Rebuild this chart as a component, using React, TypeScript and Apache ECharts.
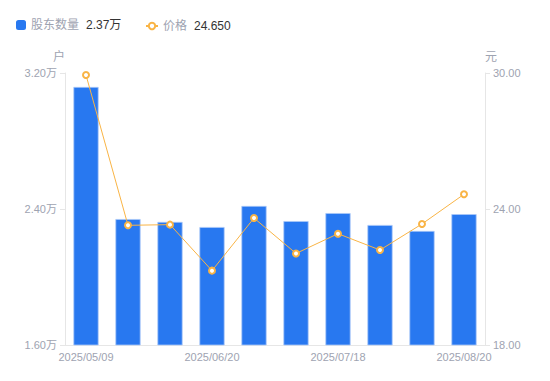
import React, { useEffect, useRef } from "react";
import * as echarts from "echarts";

const dates = [
  "2025/05/09", "2025/05/20", "2025/05/30", "2025/06/20", "2025/06/30",
  "2025/07/10", "2025/07/18", "2025/07/31", "2025/08/10", "2025/08/20",
];
const holders = [31180, 23410, 23240, 22940, 24180, 23290, 23760, 23060, 22710, 23700];
const prices = [29.91, 23.28, 23.31, 21.28, 23.6, 22.04, 22.91, 22.19, 23.34, 24.65];
const leftTicks = { min: 16000, max: 32000, interval: 8000 };
const rightTicks = { min: 18, max: 30, interval: 6 };

export default function App() {
  const ref = useRef<HTMLDivElement>(null);
  useEffect(() => {
    const chart = echarts.init(ref.current!, undefined, { renderer: "svg" });
    const gray = "#9ea3b1";
    const font = "Liberation Sans, Arial, Noto Sans CJK SC, sans-serif";
    const rich = {
      n: { color: gray, fontSize: 12, padding: [0, 7, 0, 0], fontFamily: font },
      v: { color: "#333", fontSize: 12, fontFamily: font },
    };
    chart.setOption({
      animation: false,
      textStyle: { fontFamily: font },
      legend: [
        {
          top: 14,
          left: 11,
          itemWidth: 10,
          itemHeight: 10,
          data: [{ name: "股东数量", icon: "roundRect", itemStyle: { borderWidth: 0 } }],
          formatter: (name: string) =>
            `{n|${name}}{v|${(holders[holders.length - 1] / 10000).toFixed(2)}万}`,
          textStyle: { rich },
        },
        {
          top: 15,
          left: 140,
          itemWidth: 12,
          itemHeight: 8,
          data: [{ name: "价格", itemStyle: { borderWidth: 1.5 } }],
          formatter: (name: string) =>
            `{n|${name}}{v|${prices[prices.length - 1].toFixed(3)}}`,
          textStyle: { rich },
        },
      ],
      grid: { left: 65, right: 65, top: 73, bottom: 36 },
      xAxis: {
        type: "category",
        data: dates,
        axisLine: { lineStyle: { color: "#e6e6e6" } },
        axisTick: { show: false },
        axisLabel: { color: gray, fontSize: 11, interval: 2, margin: 6 },
      },
      yAxis: [
        {
          type: "value",
          name: "户",
          nameGap: 10,
          nameTextStyle: { color: gray, fontSize: 12, align: "right" },
          min: leftTicks.min,
          max: leftTicks.max,
          interval: leftTicks.interval,
          axisLine: { show: true, lineStyle: { color: "#e6e6e6" } },
          axisTick: { show: true, length: 5, lineStyle: { color: "#e6e6e6" } },
          splitLine: { show: false },
          axisLabel: {
            color: gray,
            fontSize: 11,
            margin: 8,
            formatter: (v: number) => (v / 10000).toFixed(2) + "万",
          },
        },
        {
          type: "value",
          name: "元",
          nameGap: 10,
          nameTextStyle: { color: gray, fontSize: 12, align: "left" },
          min: rightTicks.min,
          max: rightTicks.max,
          interval: rightTicks.interval,
          axisLine: { show: true, lineStyle: { color: "#e6e6e6" } },
          axisTick: { show: true, length: 5, lineStyle: { color: "#e6e6e6" } },
          splitLine: { show: false },
          axisLabel: {
            color: gray,
            fontSize: 11,
            margin: 8,
            formatter: (v: number) => v.toFixed(2),
          },
        },
      ],
      series: [
        {
          name: "股东数量",
          type: "bar",
          data: holders,
          barWidth: "60%",
          itemStyle: { color: "#2878f0", borderColor: "#a9c8f7", borderWidth: 0.8 },
        },
        {
          name: "价格",
          type: "line",
          yAxisIndex: 1,
          data: prices,
          symbol: "emptyCircle",
          symbolSize: 6,
          lineStyle: { color: "#f9b445", width: 1 },
          itemStyle: { color: "#f9b445", borderWidth: 2 },
        },
      ],
    });
    return () => chart.dispose();
  }, []);
  return <div ref={ref} style={{ width: 550, height: 381, margin: -8 }} />;
}
